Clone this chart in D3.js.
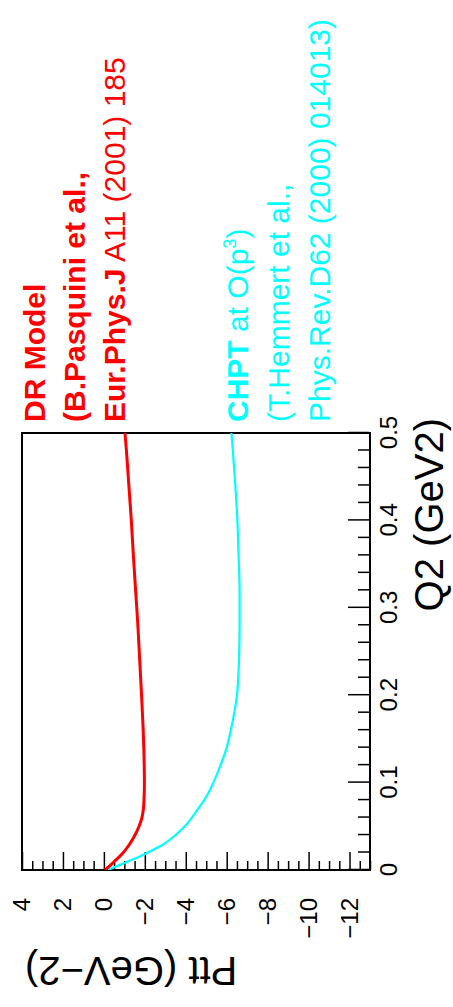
<!DOCTYPE html>
<html>
<head>
<meta charset="utf-8">
<script src="https://cdn.jsdelivr.net/npm/d3@7"></script>
<style>
  body { margin: 0; background: #fff; }
  svg { display: block; }
  text { font-family: "Liberation Sans", Arial, Helvetica, sans-serif; }
</style>
</head>
<body>
<svg id="chart" width="453" height="1007"></svg>
<script>
// Axis ticks
const q2Ticks = [0, 0.1, 0.2, 0.3, 0.4, 0.5];
const pttTicks = [4, 2, 0, -2, -4, -6, -8, -10, -12];

// Dispersion-relation model curve
const q2DR = [0, 0.005, 0.01, 0.015, 0.02, 0.03, 0.04, 0.05, 0.06, 0.07, 0.08, 0.10, 0.12, 0.16, 0.20, 0.24, 0.28, 0.32, 0.36, 0.40, 0.44, 0.48, 0.50];
const pttDR = [-0.05, -0.3, -0.52, -0.75, -0.95, -1.27, -1.52, -1.72, -1.86, -1.93, -1.96, -1.98, -1.97, -1.92, -1.84, -1.75, -1.66, -1.55, -1.44, -1.34, -1.22, -1.1, -1.03];

// Chiral perturbation theory O(p^3) curve
const q2CHPT = [0, 0.005, 0.01, 0.015, 0.02, 0.03, 0.04, 0.05, 0.06, 0.07, 0.08, 0.09, 0.10, 0.12, 0.14, 0.16, 0.18, 0.20, 0.24, 0.28, 0.32, 0.36, 0.40, 0.44, 0.48, 0.50];
const pttCHPT = [-0.2, -0.7, -1.2, -1.7, -2.15, -2.95, -3.5, -3.95, -4.3, -4.6, -4.9, -5.15, -5.35, -5.7, -6.0, -6.2, -6.37, -6.5, -6.6, -6.63, -6.63, -6.58, -6.52, -6.42, -6.3, -6.23];

// Legend lines as [text, bold, superscript] segments
const legendDR = [
  [["DR Model", true]],
  [["(B.Pasquini et al.,", true]],
  [["Eur.Phys.J", true], [" A11 (2001) 185", false]]
];
const legendCHPT = [
  [["CHPT", true], [" at O(p", false], ["3", false, true], [")", false]],
  [["(T.Hemmert et al.,", false]],
  [["Phys.Rev.D62 (2000) 014013)", false]]
];

const W = 1007;
const svg = d3.select("#chart");
// The canvas is laid out landscape and turned a quarter turn onto the page
const g = svg.append("g").attr("transform", `translate(0,${W}) rotate(-90)`);

const x = d3.scaleLinear().domain([0, 0.5]).range([137, 574]);
const y = d3.scaleLinear().domain([-13, 4]).range([370, 22]);

// Minor tick values
const q2Minor = d3.range(0, 0.5001, 0.02).filter(v => Math.abs(Math.round(v * 10) - v * 10) > 1e-6);
const pttMinor = d3.range(-13, 4.0001, 0.5).filter(v => Math.abs(v / 2 - Math.round(v / 2)) > 1e-6);

function styleTicks(sel) {
  sel.select(".domain").remove();
  sel.selectAll(".tick line").attr("stroke", "#000").attr("stroke-width", 1.5);
  sel.selectAll(".tick text").attr("font-size", 24).attr("fill", "#000")
    .style("font-family", '"Liberation Sans", Arial, sans-serif');
}

// Q2 axis (bottom)
const xBase = y.range()[0] - 1;
g.append("g").attr("transform", `translate(0,${xBase})`)
  .call(d3.axisBottom(x).tickValues(q2Ticks).tickSize(-21).tickSizeOuter(0)
    .tickPadding(11).tickFormat(d3.format("")))
  .call(styleTicks);
g.append("g").attr("transform", `translate(0,${xBase})`)
  .call(d3.axisBottom(x).tickValues(q2Minor).tickSize(-11).tickSizeOuter(0).tickFormat(""))
  .call(styleTicks);

// Ptt axis (left)
g.append("g").attr("transform", `translate(${x.range()[0]},0)`)
  .call(d3.axisLeft(y).tickValues(pttTicks).tickSize(-18).tickSizeOuter(0)
    .tickPadding(28).tickFormat(d3.format("")))
  .call(styleTicks);
g.append("g").attr("transform", `translate(${x.range()[0]},0)`)
  .call(d3.axisLeft(y).tickValues(pttMinor).tickSize(-9).tickSizeOuter(0).tickFormat(""))
  .call(styleTicks);

// Frame
g.append("rect")
  .attr("x", x.range()[0]).attr("y", y.range()[1])
  .attr("width", x.range()[1] - x.range()[0])
  .attr("height", y.range()[0] - y.range()[1])
  .attr("fill", "none").attr("stroke", "#000").attr("stroke-width", 2);

// Axis titles
g.append("text")
  .attr("x", 589).attr("y", 443)
  .attr("text-anchor", "end").attr("font-size", 40).attr("fill", "#000")
  .text("Q2 (GeV2)");

g.append("text")
  .attr("transform", "translate(50,25) rotate(-90)")
  .attr("text-anchor", "end").attr("font-size", 40).attr("fill", "#000")
  .text("Ptt (GeV\u22122)");

// Curves, clipped to the frame
g.append("clipPath").attr("id", "frameClip").append("rect")
  .attr("x", x.range()[0]).attr("y", y.range()[1])
  .attr("width", x.range()[1] - x.range()[0])
  .attr("height", y.range()[0] - y.range()[1]);

const line = d3.line().x(d => x(d[0])).y(d => y(d[1])).curve(d3.curveMonotoneX);

g.append("path")
  .datum(d3.zip(q2CHPT, pttCHPT))
  .attr("clip-path", "url(#frameClip)")
  .attr("d", line).attr("fill", "none").attr("stroke", "#00ffff").attr("stroke-width", 2.2);

g.append("path")
  .datum(d3.zip(q2DR, pttDR))
  .attr("clip-path", "url(#frameClip)")
  .attr("d", line).attr("fill", "none").attr("stroke", "#ff0000").attr("stroke-width", 3);

// Legend
function drawLegend(lines, color, baselines) {
  lines.forEach((segs, i) => {
    const t = g.append("text")
      .attr("x", 585).attr("y", baselines[i])
      .attr("font-size", 30).attr("fill", color);
    let raised = false;
    segs.forEach(([s, bold, sup]) => {
      const ts = t.append("tspan").text(s).attr("font-weight", bold ? "bold" : "normal");
      if (sup) { ts.attr("font-size", 18).attr("dy", -12); raised = true; }
      else if (raised) { ts.attr("dy", 12); raised = false; }
    });
  });
}
drawLegend(legendDR, "#ff0000", [45, 85, 125]);
drawLegend(legendCHPT, "#00ffff", [248, 289, 330]);
</script>
</body>
</html>
